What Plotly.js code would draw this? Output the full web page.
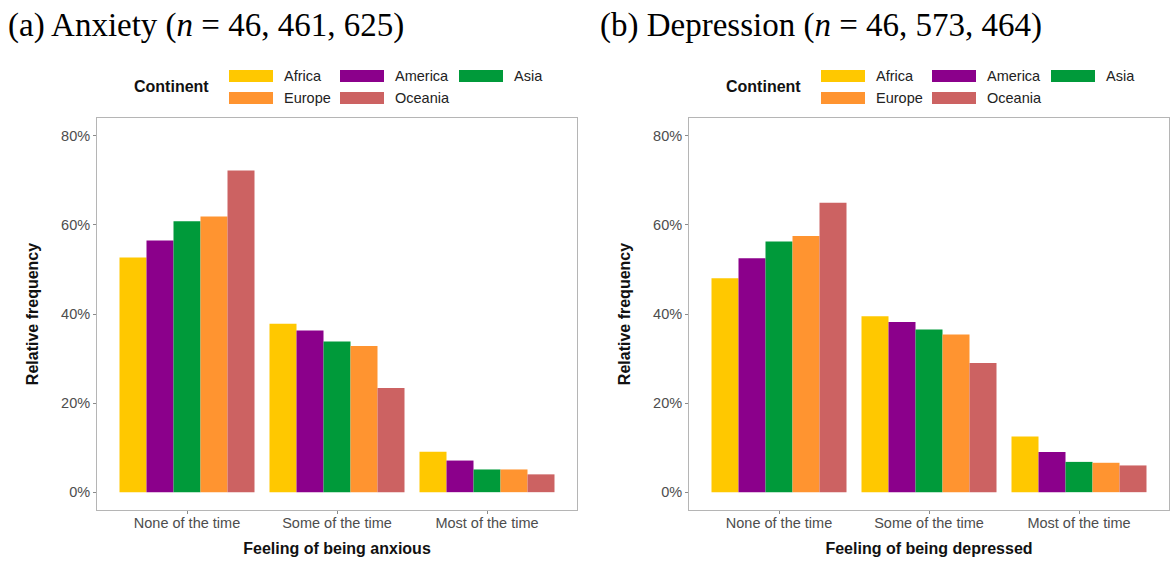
<!DOCTYPE html>
<html>
<head>
<meta charset="utf-8">
<script src="https://cdn.plot.ly/plotly-3.0.1.min.js"></script>
<style>
  html, body { margin: 0; padding: 0; background: #ffffff; }
  #chart { width: 1172px; height: 562px; }
</style>
</head>
<body>
<div id="chart"></div>
<script>
// Response categories on the x axis
const categories = ["None of the time", "Some of the time", "Most of the time"];

// Continents and their fill colours
const continents = ["Africa", "America", "Asia", "Europe", "Oceania"];
const continentColors = ["#FFC800", "#8B008B", "#009A3A", "#FF9430", "#CC6262"];

// Relative frequency (%) of feeling anxious, per continent
const anxietyAfrica  = [52.7, 37.8, 9.1];
const anxietyAmerica = [56.5, 36.3, 7.1];
const anxietyAsia    = [60.8, 33.8, 5.1];
const anxietyEurope  = [61.9, 32.8, 5.1];
const anxietyOceania = [72.2, 23.4, 4.0];

// Relative frequency (%) of feeling depressed, per continent
const depressionAfrica  = [48.0, 39.5, 12.5];
const depressionAmerica = [52.5, 38.2, 9.0];
const depressionAsia    = [56.3, 36.5, 6.8];
const depressionEurope  = [57.5, 35.4, 6.6];
const depressionOceania = [65.0, 29.0, 6.0];

const anxietySeries = [anxietyAfrica, anxietyAmerica, anxietyAsia, anxietyEurope, anxietyOceania];
const depressionSeries = [depressionAfrica, depressionAmerica, depressionAsia, depressionEurope, depressionOceania];

// Y axis ticks
const yTickValues = [0, 20, 40, 60, 80];
const yTickLabels = ["0%", "20%", "40%", "60%", "80%"];

// Panel titles and axis titles
const panelTitles = [
  "(a) Anxiety (<i>n</i> = 46, 461, 625)",
  "(b) Depression (<i>n</i> = 46, 573, 464)"
];
const xTitles = ["Feeling of being anxious", "Feeling of being depressed"];
const yTitle = "Relative frequency";
const legendTitle = "Continent";

// ---- page geometry (pixels) ----
const W = 1172, H = 562;
const px = v => v / W;
const py = v => 1 - v / H;
const panelLeft = [97, 689];
const panelWidth = 480;
const panelTop = 118, panelBottom = 510;

const sans = "Liberation Sans, Arial, Helvetica, sans-serif";
const serif = "Liberation Serif, Times New Roman, serif";
const tickGray = "#4D4D4D";
const frameGray = "#B5B5B5";

const traces = [];
continents.forEach((name, i) => {
  [anxietySeries, depressionSeries].forEach((series, p) => {
    traces.push({
      type: "bar",
      name: name,
      x: categories,
      y: series[i],
      xaxis: p === 0 ? "x" : "x2",
      yaxis: p === 0 ? "y" : "y2",
      marker: { color: continentColors[i], line: { width: 0 } },
      showlegend: false,
      hovertemplate: name + "<br>%{x}: %{y:.1f}%<extra></extra>"
    });
  });
});

function xAxis(p) {
  return {
    domain: [px(panelLeft[p]), px(panelLeft[p] + panelWidth)],
    anchor: p === 0 ? "y" : "y2",
    type: "category",
    range: [-0.6, 2.6],
    showgrid: false,
    zeroline: false,
    showline: true,
    mirror: true,
    linecolor: frameGray,
    linewidth: 1,
    ticks: "outside",
    ticklen: 3,
    tickwidth: 1,
    tickcolor: "#8A8A8A",
    ticklabelstandoff: -3,
    tickfont: { family: sans, size: 14.5, color: tickGray },
    title: {
      text: "<b>" + xTitles[p] + "</b>",
      font: { family: sans, size: 16, color: "#111111" },
      standoff: 12
    },
    fixedrange: true
  };
}

function yAxis(p) {
  return {
    domain: [py(panelBottom), py(panelTop)],
    anchor: p === 0 ? "x" : "x2",
    range: [-4, 84],
    tickmode: "array",
    tickvals: yTickValues,
    ticktext: yTickLabels,
    showgrid: false,
    zeroline: false,
    showline: true,
    mirror: true,
    linecolor: frameGray,
    linewidth: 1,
    ticks: "outside",
    ticklen: 3,
    tickwidth: 1,
    tickcolor: "#8A8A8A",
    tickfont: { family: sans, size: 14.5, color: tickGray },
    title: {
      text: "<b>" + yTitle + "</b>",
      font: { family: sans, size: 16, color: "#111111" },
      standoff: 18
    },
    fixedrange: true
  };
}

const annotations = [];
const shapes = [];

// Panel headings
panelTitles.forEach((t, p) => {
  annotations.push({
    text: t,
    xref: "paper", yref: "paper",
    x: px(p === 0 ? 6 : 598), y: py(26),
    xanchor: "left", yanchor: "middle",
    showarrow: false,
    font: { family: serif, size: 33, color: "#000000" }
  });
});

// Legend drawn above each panel: title, then swatches in rows of three
const swatchX = [229, 340, 459];
const rowY = [76, 98];
const swatchW = 44, swatchH = 12;
[0, 1].forEach(p => {
  const off = panelLeft[p] - panelLeft[0];
  annotations.push({
    text: "<b>" + legendTitle + "</b>",
    xref: "paper", yref: "paper",
    x: px(132 + off), y: py(86),
    xanchor: "left", yanchor: "middle",
    showarrow: false,
    font: { family: sans, size: 16, color: "#111111" }
  });
  continents.forEach((name, i) => {
    const col = i % 3, row = Math.floor(i / 3);
    const x0 = swatchX[col] + off;
    const yc = rowY[row];
    shapes.push({
      type: "rect", xref: "paper", yref: "paper",
      x0: px(x0), x1: px(x0 + swatchW),
      y0: py(yc + swatchH / 2), y1: py(yc - swatchH / 2),
      fillcolor: continentColors[i], line: { width: 0 }
    });
    annotations.push({
      text: name,
      xref: "paper", yref: "paper",
      x: px(x0 + swatchW + 9), y: py(yc),
      xanchor: "left", yanchor: "middle",
      showarrow: false,
      font: { family: sans, size: 14.5, color: "#222222" }
    });
  });
});

const layout = {
  width: W, height: H,
  margin: { l: 0, r: 0, t: 0, b: 0 },
  paper_bgcolor: "#ffffff",
  plot_bgcolor: "#ffffff",
  barmode: "group",
  bargap: 0.1,
  bargroupgap: 0,
  showlegend: false,
  xaxis: xAxis(0),
  yaxis: yAxis(0),
  xaxis2: xAxis(1),
  yaxis2: yAxis(1),
  annotations: annotations,
  shapes: shapes
};

Plotly.newPlot("chart", traces, layout, { displayModeBar: false, staticPlot: true });
</script>
</body>
</html>
